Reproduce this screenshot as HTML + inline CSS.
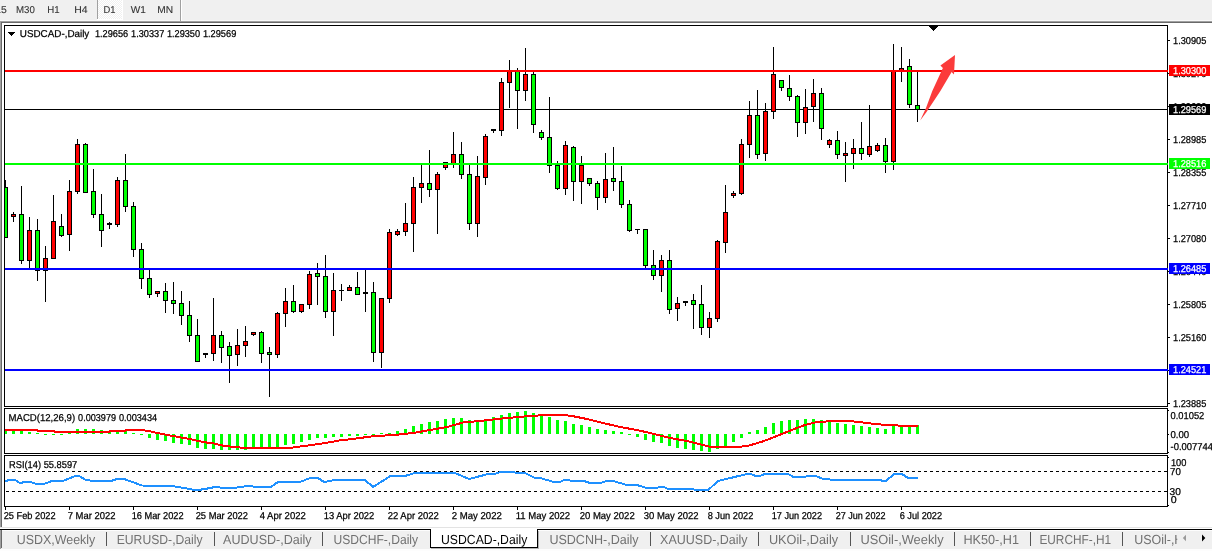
<!DOCTYPE html>
<html lang="en"><head><meta charset="utf-8"><title>USDCAD-,Daily</title>
<style>
html,body{margin:0;padding:0;background:#fff;}
body{width:1212px;height:551px;overflow:hidden;font-family:"Liberation Sans",sans-serif;}
svg{display:block;}
text{font-family:"Liberation Sans",sans-serif;text-rendering:geometricPrecision;}
.s{font-size:10px;fill:#000;stroke:#000;stroke-width:.25px;}
.tb{font-size:10px;fill:#333;stroke:#333;stroke-width:.1px;}
.tab{font-size:13.1px;fill:#707070;}
</style></head><body>
<svg width="1212" height="551" viewBox="0 0 1212 551">
<defs><pattern id="hatch" width="2" height="2" patternUnits="userSpaceOnUse"><rect width="2" height="2" fill="#f0f0f0"/><rect width="1" height="1" fill="#fff"/><rect x="1" y="1" width="1" height="1" fill="#fff"/></pattern></defs>
<g shape-rendering="crispEdges">
<rect x="0" y="0" width="1212" height="551" fill="#fff"/>
<rect x="0" y="0" width="1212" height="20" fill="#f0f0f0"/>
<rect x="0" y="20" width="1212" height="1" fill="#f8f8f8"/>
<rect x="0" y="21" width="1212" height="1" fill="#a0a0a0"/>
<rect x="0" y="22" width="1212" height="1" fill="#696969"/>
<rect x="98" y="0" width="24" height="19" fill="url(#hatch)"/>
<rect x="97" y="19" width="26" height="1" fill="#fff"/>
<rect x="122" y="0" width="1" height="20" fill="#fff"/>
<rect x="97" y="0" width="1" height="19" fill="#a0a0a0"/>
<rect x="180" y="0" width="1" height="21" fill="#a0a0a0"/>
<rect x="181" y="0" width="1" height="21" fill="#fff"/>
<rect x="0" y="21" width="1" height="506" fill="#a0a0a0"/>
<rect x="1" y="22" width="1" height="505" fill="#696969"/>
<rect x="4" y="25" width="1164" height="1" fill="#000"/>
<rect x="4" y="25" width="1" height="382" fill="#000"/>
<rect x="1167" y="25" width="1" height="382" fill="#000"/>
<rect x="4" y="408" width="1164" height="1" fill="#000"/>
<rect x="4" y="408" width="1" height="46" fill="#000"/>
<rect x="1167" y="408" width="1" height="46" fill="#000"/>
<rect x="4" y="455" width="1164" height="1" fill="#000"/>
<rect x="4" y="455" width="1" height="52" fill="#000"/>
<rect x="1167" y="455" width="1" height="52" fill="#000"/>
<rect x="4" y="406" width="1164" height="1" fill="#000"/>
<rect x="4" y="453" width="1164" height="1" fill="#000"/>
<rect x="4" y="506" width="1164" height="1" fill="#000"/>
<rect x="5" y="109" width="1163" height="1" fill="#000"/>
<rect x="5" y="180" width="1" height="58" fill="#000"/>
<rect x="5" y="187" width="3" height="51" fill="#000"/>
<rect x="5" y="188" width="2" height="49" fill="#00ff00"/>
<rect x="13" y="212" width="1" height="10" fill="#000"/>
<rect x="11" y="214" width="5" height="3" fill="#000"/>
<rect x="12" y="215" width="3" height="1" fill="#ff0000"/>
<rect x="21" y="186" width="1" height="78" fill="#000"/>
<rect x="19" y="214" width="5" height="47" fill="#000"/>
<rect x="20" y="215" width="3" height="45" fill="#00ff00"/>
<rect x="29" y="217" width="1" height="53" fill="#000"/>
<rect x="27" y="230" width="5" height="31" fill="#000"/>
<rect x="28" y="231" width="3" height="29" fill="#ff0000"/>
<rect x="37" y="219" width="1" height="62" fill="#000"/>
<rect x="35" y="230" width="5" height="41" fill="#000"/>
<rect x="36" y="231" width="3" height="39" fill="#00ff00"/>
<rect x="45" y="246" width="1" height="56" fill="#000"/>
<rect x="43" y="258" width="5" height="13" fill="#000"/>
<rect x="44" y="259" width="3" height="11" fill="#ff0000"/>
<rect x="53" y="195" width="1" height="64" fill="#000"/>
<rect x="51" y="221" width="5" height="38" fill="#000"/>
<rect x="52" y="222" width="3" height="36" fill="#ff0000"/>
<rect x="61" y="214" width="1" height="23" fill="#000"/>
<rect x="59" y="226" width="5" height="10" fill="#000"/>
<rect x="60" y="227" width="3" height="8" fill="#00ff00"/>
<rect x="69" y="180" width="1" height="71" fill="#000"/>
<rect x="67" y="191" width="5" height="44" fill="#000"/>
<rect x="68" y="192" width="3" height="42" fill="#ff0000"/>
<rect x="77" y="139" width="1" height="55" fill="#000"/>
<rect x="75" y="144" width="5" height="48" fill="#000"/>
<rect x="76" y="145" width="3" height="46" fill="#ff0000"/>
<rect x="85" y="143" width="1" height="50" fill="#000"/>
<rect x="83" y="144" width="5" height="49" fill="#000"/>
<rect x="84" y="145" width="3" height="47" fill="#00ff00"/>
<rect x="93" y="169" width="1" height="49" fill="#000"/>
<rect x="91" y="191" width="5" height="24" fill="#000"/>
<rect x="92" y="192" width="3" height="22" fill="#00ff00"/>
<rect x="101" y="194" width="1" height="53" fill="#000"/>
<rect x="99" y="214" width="5" height="17" fill="#000"/>
<rect x="100" y="215" width="3" height="15" fill="#00ff00"/>
<rect x="109" y="222" width="1" height="7" fill="#000"/>
<rect x="107" y="223" width="5" height="2" fill="#000"/>
<rect x="117" y="177" width="1" height="50" fill="#000"/>
<rect x="115" y="180" width="5" height="45" fill="#000"/>
<rect x="116" y="181" width="3" height="43" fill="#ff0000"/>
<rect x="125" y="154" width="1" height="58" fill="#000"/>
<rect x="123" y="180" width="5" height="27" fill="#000"/>
<rect x="124" y="181" width="3" height="25" fill="#00ff00"/>
<rect x="133" y="202" width="1" height="55" fill="#000"/>
<rect x="131" y="206" width="5" height="44" fill="#000"/>
<rect x="132" y="207" width="3" height="42" fill="#00ff00"/>
<rect x="141" y="243" width="1" height="46" fill="#000"/>
<rect x="139" y="249" width="5" height="30" fill="#000"/>
<rect x="140" y="250" width="3" height="28" fill="#00ff00"/>
<rect x="149" y="270" width="1" height="28" fill="#000"/>
<rect x="147" y="278" width="5" height="17" fill="#000"/>
<rect x="148" y="279" width="3" height="15" fill="#00ff00"/>
<rect x="157" y="291" width="1" height="6" fill="#000"/>
<rect x="155" y="291" width="5" height="3" fill="#000"/>
<rect x="156" y="292" width="3" height="1" fill="#ff0000"/>
<rect x="165" y="283" width="1" height="30" fill="#000"/>
<rect x="163" y="291" width="5" height="10" fill="#000"/>
<rect x="164" y="292" width="3" height="8" fill="#00ff00"/>
<rect x="173" y="282" width="1" height="32" fill="#000"/>
<rect x="171" y="300" width="5" height="4" fill="#000"/>
<rect x="172" y="301" width="3" height="2" fill="#00ff00"/>
<rect x="181" y="291" width="1" height="34" fill="#000"/>
<rect x="179" y="303" width="5" height="13" fill="#000"/>
<rect x="180" y="304" width="3" height="11" fill="#00ff00"/>
<rect x="189" y="301" width="1" height="41" fill="#000"/>
<rect x="187" y="315" width="5" height="21" fill="#000"/>
<rect x="188" y="316" width="3" height="19" fill="#00ff00"/>
<rect x="197" y="319" width="1" height="43" fill="#000"/>
<rect x="195" y="335" width="5" height="27" fill="#000"/>
<rect x="196" y="336" width="3" height="25" fill="#00ff00"/>
<rect x="205" y="353" width="1" height="5" fill="#000"/>
<rect x="203" y="353" width="5" height="2" fill="#000"/>
<rect x="213" y="298" width="1" height="63" fill="#000"/>
<rect x="211" y="335" width="5" height="19" fill="#000"/>
<rect x="212" y="336" width="3" height="17" fill="#ff0000"/>
<rect x="221" y="331" width="1" height="32" fill="#000"/>
<rect x="219" y="335" width="5" height="13" fill="#000"/>
<rect x="220" y="336" width="3" height="11" fill="#00ff00"/>
<rect x="229" y="342" width="1" height="41" fill="#000"/>
<rect x="227" y="346" width="5" height="10" fill="#000"/>
<rect x="228" y="347" width="3" height="8" fill="#00ff00"/>
<rect x="237" y="329" width="1" height="37" fill="#000"/>
<rect x="235" y="345" width="5" height="10" fill="#000"/>
<rect x="236" y="346" width="3" height="8" fill="#ff0000"/>
<rect x="245" y="326" width="1" height="31" fill="#000"/>
<rect x="243" y="341" width="5" height="5" fill="#000"/>
<rect x="244" y="342" width="3" height="3" fill="#ff0000"/>
<rect x="253" y="332" width="1" height="4" fill="#000"/>
<rect x="251" y="332" width="5" height="3" fill="#000"/>
<rect x="252" y="333" width="3" height="1" fill="#ff0000"/>
<rect x="261" y="331" width="1" height="32" fill="#000"/>
<rect x="259" y="332" width="5" height="22" fill="#000"/>
<rect x="260" y="333" width="3" height="20" fill="#00ff00"/>
<rect x="269" y="347" width="1" height="50" fill="#000"/>
<rect x="267" y="352" width="5" height="3" fill="#000"/>
<rect x="268" y="353" width="3" height="1" fill="#00ff00"/>
<rect x="277" y="312" width="1" height="46" fill="#000"/>
<rect x="275" y="313" width="5" height="42" fill="#000"/>
<rect x="276" y="314" width="3" height="40" fill="#ff0000"/>
<rect x="285" y="288" width="1" height="39" fill="#000"/>
<rect x="283" y="301" width="5" height="13" fill="#000"/>
<rect x="284" y="302" width="3" height="11" fill="#ff0000"/>
<rect x="293" y="285" width="1" height="28" fill="#000"/>
<rect x="291" y="301" width="5" height="11" fill="#000"/>
<rect x="292" y="302" width="3" height="9" fill="#00ff00"/>
<rect x="301" y="304" width="1" height="9" fill="#000"/>
<rect x="299" y="304" width="5" height="8" fill="#000"/>
<rect x="300" y="305" width="3" height="6" fill="#ff0000"/>
<rect x="309" y="271" width="1" height="38" fill="#000"/>
<rect x="307" y="274" width="5" height="31" fill="#000"/>
<rect x="308" y="275" width="3" height="29" fill="#ff0000"/>
<rect x="317" y="263" width="1" height="42" fill="#000"/>
<rect x="315" y="273" width="5" height="4" fill="#000"/>
<rect x="316" y="274" width="3" height="2" fill="#00ff00"/>
<rect x="325" y="255" width="1" height="63" fill="#000"/>
<rect x="323" y="276" width="5" height="36" fill="#000"/>
<rect x="324" y="277" width="3" height="34" fill="#00ff00"/>
<rect x="333" y="273" width="1" height="63" fill="#000"/>
<rect x="331" y="290" width="5" height="22" fill="#000"/>
<rect x="332" y="291" width="3" height="20" fill="#ff0000"/>
<rect x="341" y="284" width="1" height="17" fill="#000"/>
<rect x="339" y="290" width="5" height="1" fill="#000"/>
<rect x="349" y="285" width="1" height="6" fill="#000"/>
<rect x="347" y="287" width="5" height="4" fill="#000"/>
<rect x="348" y="288" width="3" height="2" fill="#ff0000"/>
<rect x="357" y="272" width="1" height="23" fill="#000"/>
<rect x="355" y="287" width="5" height="8" fill="#000"/>
<rect x="356" y="288" width="3" height="6" fill="#00ff00"/>
<rect x="365" y="268" width="1" height="44" fill="#000"/>
<rect x="363" y="292" width="5" height="2" fill="#000"/>
<rect x="373" y="282" width="1" height="80" fill="#000"/>
<rect x="371" y="292" width="5" height="61" fill="#000"/>
<rect x="372" y="293" width="3" height="59" fill="#00ff00"/>
<rect x="381" y="298" width="1" height="70" fill="#000"/>
<rect x="379" y="298" width="5" height="55" fill="#000"/>
<rect x="380" y="299" width="3" height="53" fill="#ff0000"/>
<rect x="389" y="229" width="1" height="74" fill="#000"/>
<rect x="387" y="232" width="5" height="67" fill="#000"/>
<rect x="388" y="233" width="3" height="65" fill="#ff0000"/>
<rect x="397" y="229" width="1" height="7" fill="#000"/>
<rect x="395" y="231" width="5" height="4" fill="#000"/>
<rect x="396" y="232" width="3" height="2" fill="#ff0000"/>
<rect x="405" y="203" width="1" height="33" fill="#000"/>
<rect x="403" y="223" width="5" height="9" fill="#000"/>
<rect x="404" y="224" width="3" height="7" fill="#ff0000"/>
<rect x="413" y="177" width="1" height="75" fill="#000"/>
<rect x="411" y="187" width="5" height="37" fill="#000"/>
<rect x="412" y="188" width="3" height="35" fill="#ff0000"/>
<rect x="421" y="163" width="1" height="40" fill="#000"/>
<rect x="419" y="183" width="5" height="5" fill="#000"/>
<rect x="420" y="184" width="3" height="3" fill="#ff0000"/>
<rect x="429" y="150" width="1" height="47" fill="#000"/>
<rect x="427" y="183" width="5" height="7" fill="#000"/>
<rect x="428" y="184" width="3" height="5" fill="#00ff00"/>
<rect x="437" y="172" width="1" height="62" fill="#000"/>
<rect x="435" y="174" width="5" height="16" fill="#000"/>
<rect x="436" y="175" width="3" height="14" fill="#ff0000"/>
<rect x="445" y="162" width="1" height="8" fill="#000"/>
<rect x="443" y="162" width="5" height="6" fill="#000"/>
<rect x="444" y="163" width="3" height="4" fill="#ff0000"/>
<rect x="453" y="132" width="1" height="36" fill="#000"/>
<rect x="451" y="154" width="5" height="11" fill="#000"/>
<rect x="452" y="155" width="3" height="9" fill="#ff0000"/>
<rect x="461" y="142" width="1" height="37" fill="#000"/>
<rect x="459" y="154" width="5" height="21" fill="#000"/>
<rect x="460" y="155" width="3" height="19" fill="#00ff00"/>
<rect x="469" y="163" width="1" height="67" fill="#000"/>
<rect x="467" y="174" width="5" height="50" fill="#000"/>
<rect x="468" y="175" width="3" height="48" fill="#00ff00"/>
<rect x="477" y="156" width="1" height="81" fill="#000"/>
<rect x="475" y="176" width="5" height="48" fill="#000"/>
<rect x="476" y="177" width="3" height="46" fill="#ff0000"/>
<rect x="485" y="134" width="1" height="51" fill="#000"/>
<rect x="483" y="136" width="5" height="42" fill="#000"/>
<rect x="484" y="137" width="3" height="40" fill="#ff0000"/>
<rect x="493" y="129" width="1" height="4" fill="#000"/>
<rect x="491" y="129" width="5" height="2" fill="#000"/>
<rect x="501" y="78" width="1" height="58" fill="#000"/>
<rect x="499" y="82" width="5" height="49" fill="#000"/>
<rect x="500" y="83" width="3" height="47" fill="#ff0000"/>
<rect x="509" y="60" width="1" height="48" fill="#000"/>
<rect x="507" y="70" width="5" height="13" fill="#000"/>
<rect x="508" y="71" width="3" height="11" fill="#ff0000"/>
<rect x="517" y="68" width="1" height="61" fill="#000"/>
<rect x="515" y="70" width="5" height="21" fill="#000"/>
<rect x="516" y="71" width="3" height="19" fill="#00ff00"/>
<rect x="525" y="48" width="1" height="53" fill="#000"/>
<rect x="523" y="74" width="5" height="17" fill="#000"/>
<rect x="524" y="75" width="3" height="15" fill="#ff0000"/>
<rect x="533" y="72" width="1" height="61" fill="#000"/>
<rect x="531" y="74" width="5" height="51" fill="#000"/>
<rect x="532" y="75" width="3" height="49" fill="#00ff00"/>
<rect x="541" y="130" width="1" height="10" fill="#000"/>
<rect x="539" y="132" width="5" height="6" fill="#000"/>
<rect x="540" y="133" width="3" height="4" fill="#00ff00"/>
<rect x="549" y="97" width="1" height="76" fill="#000"/>
<rect x="547" y="137" width="5" height="29" fill="#000"/>
<rect x="548" y="138" width="3" height="27" fill="#00ff00"/>
<rect x="557" y="161" width="1" height="29" fill="#000"/>
<rect x="555" y="165" width="5" height="24" fill="#000"/>
<rect x="556" y="166" width="3" height="22" fill="#00ff00"/>
<rect x="565" y="141" width="1" height="54" fill="#000"/>
<rect x="563" y="145" width="5" height="44" fill="#000"/>
<rect x="564" y="146" width="3" height="42" fill="#ff0000"/>
<rect x="573" y="146" width="1" height="55" fill="#000"/>
<rect x="571" y="147" width="5" height="35" fill="#000"/>
<rect x="572" y="148" width="3" height="33" fill="#00ff00"/>
<rect x="581" y="156" width="1" height="48" fill="#000"/>
<rect x="579" y="165" width="5" height="17" fill="#000"/>
<rect x="580" y="166" width="3" height="15" fill="#ff0000"/>
<rect x="589" y="178" width="1" height="8" fill="#000"/>
<rect x="587" y="178" width="5" height="6" fill="#000"/>
<rect x="588" y="179" width="3" height="4" fill="#00ff00"/>
<rect x="597" y="181" width="1" height="29" fill="#000"/>
<rect x="595" y="183" width="5" height="15" fill="#000"/>
<rect x="596" y="184" width="3" height="13" fill="#00ff00"/>
<rect x="605" y="153" width="1" height="50" fill="#000"/>
<rect x="603" y="179" width="5" height="19" fill="#000"/>
<rect x="604" y="180" width="3" height="17" fill="#ff0000"/>
<rect x="613" y="147" width="1" height="44" fill="#000"/>
<rect x="611" y="178" width="5" height="4" fill="#000"/>
<rect x="612" y="179" width="3" height="2" fill="#00ff00"/>
<rect x="621" y="166" width="1" height="42" fill="#000"/>
<rect x="619" y="181" width="5" height="24" fill="#000"/>
<rect x="620" y="182" width="3" height="22" fill="#00ff00"/>
<rect x="629" y="200" width="1" height="32" fill="#000"/>
<rect x="627" y="204" width="5" height="27" fill="#000"/>
<rect x="628" y="205" width="3" height="25" fill="#00ff00"/>
<rect x="637" y="229" width="1" height="5" fill="#000"/>
<rect x="635" y="229" width="5" height="1" fill="#000"/>
<rect x="645" y="229" width="1" height="39" fill="#000"/>
<rect x="643" y="229" width="5" height="37" fill="#000"/>
<rect x="644" y="230" width="3" height="35" fill="#00ff00"/>
<rect x="653" y="250" width="1" height="30" fill="#000"/>
<rect x="651" y="265" width="5" height="11" fill="#000"/>
<rect x="652" y="266" width="3" height="9" fill="#00ff00"/>
<rect x="661" y="255" width="1" height="37" fill="#000"/>
<rect x="659" y="260" width="5" height="16" fill="#000"/>
<rect x="660" y="261" width="3" height="14" fill="#ff0000"/>
<rect x="669" y="250" width="1" height="64" fill="#000"/>
<rect x="667" y="260" width="5" height="50" fill="#000"/>
<rect x="668" y="261" width="3" height="48" fill="#00ff00"/>
<rect x="677" y="297" width="1" height="24" fill="#000"/>
<rect x="675" y="303" width="5" height="6" fill="#000"/>
<rect x="676" y="304" width="3" height="4" fill="#ff0000"/>
<rect x="685" y="301" width="1" height="5" fill="#000"/>
<rect x="683" y="301" width="5" height="2" fill="#000"/>
<rect x="693" y="294" width="1" height="35" fill="#000"/>
<rect x="691" y="300" width="5" height="5" fill="#000"/>
<rect x="692" y="301" width="3" height="3" fill="#00ff00"/>
<rect x="701" y="285" width="1" height="50" fill="#000"/>
<rect x="699" y="304" width="5" height="24" fill="#000"/>
<rect x="700" y="305" width="3" height="22" fill="#00ff00"/>
<rect x="709" y="312" width="1" height="26" fill="#000"/>
<rect x="707" y="318" width="5" height="10" fill="#000"/>
<rect x="708" y="319" width="3" height="8" fill="#ff0000"/>
<rect x="717" y="240" width="1" height="82" fill="#000"/>
<rect x="715" y="241" width="5" height="78" fill="#000"/>
<rect x="716" y="242" width="3" height="76" fill="#ff0000"/>
<rect x="725" y="185" width="1" height="68" fill="#000"/>
<rect x="723" y="212" width="5" height="31" fill="#000"/>
<rect x="724" y="213" width="3" height="29" fill="#ff0000"/>
<rect x="733" y="191" width="1" height="7" fill="#000"/>
<rect x="731" y="193" width="5" height="3" fill="#000"/>
<rect x="732" y="194" width="3" height="1" fill="#ff0000"/>
<rect x="741" y="139" width="1" height="56" fill="#000"/>
<rect x="739" y="144" width="5" height="50" fill="#000"/>
<rect x="740" y="145" width="3" height="48" fill="#ff0000"/>
<rect x="749" y="101" width="1" height="57" fill="#000"/>
<rect x="747" y="115" width="5" height="30" fill="#000"/>
<rect x="748" y="116" width="3" height="28" fill="#ff0000"/>
<rect x="757" y="90" width="1" height="69" fill="#000"/>
<rect x="755" y="115" width="5" height="40" fill="#000"/>
<rect x="756" y="116" width="3" height="38" fill="#00ff00"/>
<rect x="765" y="103" width="1" height="58" fill="#000"/>
<rect x="763" y="111" width="5" height="43" fill="#000"/>
<rect x="764" y="112" width="3" height="41" fill="#ff0000"/>
<rect x="773" y="47" width="1" height="72" fill="#000"/>
<rect x="771" y="74" width="5" height="38" fill="#000"/>
<rect x="772" y="75" width="3" height="36" fill="#ff0000"/>
<rect x="781" y="80" width="1" height="11" fill="#000"/>
<rect x="779" y="80" width="5" height="8" fill="#000"/>
<rect x="780" y="81" width="3" height="6" fill="#00ff00"/>
<rect x="789" y="75" width="1" height="26" fill="#000"/>
<rect x="787" y="88" width="5" height="9" fill="#000"/>
<rect x="788" y="89" width="3" height="7" fill="#00ff00"/>
<rect x="797" y="95" width="1" height="42" fill="#000"/>
<rect x="795" y="96" width="5" height="27" fill="#000"/>
<rect x="796" y="97" width="3" height="25" fill="#00ff00"/>
<rect x="805" y="89" width="1" height="45" fill="#000"/>
<rect x="803" y="107" width="5" height="16" fill="#000"/>
<rect x="804" y="108" width="3" height="14" fill="#ff0000"/>
<rect x="813" y="79" width="1" height="43" fill="#000"/>
<rect x="811" y="93" width="5" height="14" fill="#000"/>
<rect x="812" y="94" width="3" height="12" fill="#ff0000"/>
<rect x="821" y="88" width="1" height="52" fill="#000"/>
<rect x="819" y="93" width="5" height="36" fill="#000"/>
<rect x="820" y="94" width="3" height="34" fill="#00ff00"/>
<rect x="829" y="139" width="1" height="9" fill="#000"/>
<rect x="827" y="140" width="5" height="5" fill="#000"/>
<rect x="828" y="141" width="3" height="3" fill="#ff0000"/>
<rect x="837" y="131" width="1" height="28" fill="#000"/>
<rect x="835" y="140" width="5" height="15" fill="#000"/>
<rect x="836" y="141" width="3" height="13" fill="#00ff00"/>
<rect x="845" y="142" width="1" height="40" fill="#000"/>
<rect x="843" y="153" width="5" height="3" fill="#000"/>
<rect x="844" y="154" width="3" height="1" fill="#ff0000"/>
<rect x="853" y="139" width="1" height="30" fill="#000"/>
<rect x="851" y="148" width="5" height="6" fill="#000"/>
<rect x="852" y="149" width="3" height="4" fill="#ff0000"/>
<rect x="861" y="122" width="1" height="38" fill="#000"/>
<rect x="859" y="148" width="5" height="6" fill="#000"/>
<rect x="860" y="149" width="3" height="4" fill="#00ff00"/>
<rect x="869" y="105" width="1" height="52" fill="#000"/>
<rect x="867" y="146" width="5" height="9" fill="#000"/>
<rect x="868" y="147" width="3" height="7" fill="#ff0000"/>
<rect x="877" y="143" width="1" height="9" fill="#000"/>
<rect x="875" y="145" width="5" height="6" fill="#000"/>
<rect x="876" y="146" width="3" height="4" fill="#ff0000"/>
<rect x="885" y="138" width="1" height="35" fill="#000"/>
<rect x="883" y="145" width="5" height="17" fill="#000"/>
<rect x="884" y="146" width="3" height="15" fill="#00ff00"/>
<rect x="893" y="44" width="1" height="126" fill="#000"/>
<rect x="891" y="71" width="5" height="91" fill="#000"/>
<rect x="892" y="72" width="3" height="89" fill="#ff0000"/>
<rect x="901" y="47" width="1" height="35" fill="#000"/>
<rect x="899" y="68" width="5" height="4" fill="#000"/>
<rect x="900" y="69" width="3" height="2" fill="#ff0000"/>
<rect x="909" y="59" width="1" height="49" fill="#000"/>
<rect x="907" y="66" width="5" height="39" fill="#000"/>
<rect x="908" y="67" width="3" height="37" fill="#00ff00"/>
<rect x="917" y="72" width="1" height="50" fill="#000"/>
<rect x="915" y="105" width="5" height="5" fill="#000"/>
<rect x="916" y="106" width="3" height="3" fill="#00ff00"/>
<rect x="5" y="70" width="1163" height="2" fill="#ff0000"/>
<rect x="5" y="163" width="1163" height="2" fill="#00ff00"/>
<rect x="5" y="268" width="1163" height="2" fill="#0000ff"/>
<rect x="5" y="369" width="1163" height="2" fill="#0000ff"/>
<rect x="5" y="431" width="2" height="3" fill="#00ff00"/>
<rect x="12" y="431" width="3" height="3" fill="#00ff00"/>
<rect x="20" y="431" width="3" height="3" fill="#00ff00"/>
<rect x="28" y="432" width="3" height="2" fill="#00ff00"/>
<rect x="36" y="433" width="3" height="1" fill="#00ff00"/>
<rect x="44" y="434" width="3" height="1" fill="#00ff00"/>
<rect x="52" y="434" width="3" height="1" fill="#00ff00"/>
<rect x="60" y="434" width="3" height="1" fill="#00ff00"/>
<rect x="68" y="432" width="3" height="2" fill="#00ff00"/>
<rect x="76" y="429" width="3" height="5" fill="#00ff00"/>
<rect x="84" y="429" width="3" height="5" fill="#00ff00"/>
<rect x="92" y="429" width="3" height="5" fill="#00ff00"/>
<rect x="100" y="430" width="3" height="4" fill="#00ff00"/>
<rect x="108" y="431" width="3" height="3" fill="#00ff00"/>
<rect x="116" y="432" width="3" height="2" fill="#00ff00"/>
<rect x="124" y="431" width="3" height="3" fill="#00ff00"/>
<rect x="132" y="433" width="3" height="1" fill="#00ff00"/>
<rect x="140" y="434" width="3" height="1" fill="#00ff00"/>
<rect x="148" y="434" width="3" height="4" fill="#00ff00"/>
<rect x="156" y="434" width="3" height="6" fill="#00ff00"/>
<rect x="164" y="434" width="3" height="7" fill="#00ff00"/>
<rect x="172" y="434" width="3" height="9" fill="#00ff00"/>
<rect x="180" y="434" width="3" height="10" fill="#00ff00"/>
<rect x="188" y="434" width="3" height="11" fill="#00ff00"/>
<rect x="196" y="434" width="3" height="14" fill="#00ff00"/>
<rect x="204" y="434" width="3" height="15" fill="#00ff00"/>
<rect x="212" y="434" width="3" height="15" fill="#00ff00"/>
<rect x="220" y="434" width="3" height="16" fill="#00ff00"/>
<rect x="228" y="434" width="3" height="16" fill="#00ff00"/>
<rect x="236" y="434" width="3" height="16" fill="#00ff00"/>
<rect x="244" y="434" width="3" height="16" fill="#00ff00"/>
<rect x="252" y="434" width="3" height="14" fill="#00ff00"/>
<rect x="260" y="434" width="3" height="14" fill="#00ff00"/>
<rect x="268" y="434" width="3" height="14" fill="#00ff00"/>
<rect x="276" y="434" width="3" height="13" fill="#00ff00"/>
<rect x="284" y="434" width="3" height="11" fill="#00ff00"/>
<rect x="292" y="434" width="3" height="10" fill="#00ff00"/>
<rect x="300" y="434" width="3" height="8" fill="#00ff00"/>
<rect x="308" y="434" width="3" height="6" fill="#00ff00"/>
<rect x="316" y="434" width="3" height="4" fill="#00ff00"/>
<rect x="324" y="434" width="3" height="4" fill="#00ff00"/>
<rect x="332" y="434" width="3" height="3" fill="#00ff00"/>
<rect x="340" y="434" width="3" height="3" fill="#00ff00"/>
<rect x="348" y="434" width="3" height="2" fill="#00ff00"/>
<rect x="356" y="434" width="3" height="2" fill="#00ff00"/>
<rect x="364" y="434" width="3" height="1" fill="#00ff00"/>
<rect x="372" y="434" width="3" height="1" fill="#00ff00"/>
<rect x="380" y="433" width="3" height="1" fill="#00ff00"/>
<rect x="388" y="433" width="3" height="1" fill="#00ff00"/>
<rect x="396" y="431" width="3" height="3" fill="#00ff00"/>
<rect x="404" y="429" width="3" height="5" fill="#00ff00"/>
<rect x="412" y="426" width="3" height="8" fill="#00ff00"/>
<rect x="420" y="424" width="3" height="10" fill="#00ff00"/>
<rect x="428" y="422" width="3" height="12" fill="#00ff00"/>
<rect x="436" y="421" width="3" height="13" fill="#00ff00"/>
<rect x="444" y="419" width="3" height="15" fill="#00ff00"/>
<rect x="452" y="418" width="3" height="16" fill="#00ff00"/>
<rect x="460" y="418" width="3" height="16" fill="#00ff00"/>
<rect x="468" y="420" width="3" height="14" fill="#00ff00"/>
<rect x="476" y="420" width="3" height="14" fill="#00ff00"/>
<rect x="484" y="419" width="3" height="15" fill="#00ff00"/>
<rect x="492" y="417" width="3" height="17" fill="#00ff00"/>
<rect x="500" y="415" width="3" height="19" fill="#00ff00"/>
<rect x="508" y="413" width="3" height="21" fill="#00ff00"/>
<rect x="516" y="412" width="3" height="22" fill="#00ff00"/>
<rect x="524" y="411" width="3" height="23" fill="#00ff00"/>
<rect x="532" y="413" width="3" height="21" fill="#00ff00"/>
<rect x="540" y="415" width="3" height="19" fill="#00ff00"/>
<rect x="548" y="417" width="3" height="17" fill="#00ff00"/>
<rect x="556" y="420" width="3" height="14" fill="#00ff00"/>
<rect x="564" y="421" width="3" height="13" fill="#00ff00"/>
<rect x="572" y="424" width="3" height="10" fill="#00ff00"/>
<rect x="580" y="425" width="3" height="9" fill="#00ff00"/>
<rect x="588" y="427" width="3" height="7" fill="#00ff00"/>
<rect x="596" y="429" width="3" height="5" fill="#00ff00"/>
<rect x="604" y="430" width="3" height="4" fill="#00ff00"/>
<rect x="612" y="431" width="3" height="3" fill="#00ff00"/>
<rect x="620" y="432" width="3" height="2" fill="#00ff00"/>
<rect x="628" y="434" width="3" height="1" fill="#00ff00"/>
<rect x="636" y="434" width="3" height="3" fill="#00ff00"/>
<rect x="644" y="434" width="3" height="6" fill="#00ff00"/>
<rect x="652" y="434" width="3" height="8" fill="#00ff00"/>
<rect x="660" y="434" width="3" height="9" fill="#00ff00"/>
<rect x="668" y="434" width="3" height="12" fill="#00ff00"/>
<rect x="676" y="434" width="3" height="14" fill="#00ff00"/>
<rect x="684" y="434" width="3" height="15" fill="#00ff00"/>
<rect x="692" y="434" width="3" height="16" fill="#00ff00"/>
<rect x="700" y="434" width="3" height="17" fill="#00ff00"/>
<rect x="708" y="434" width="3" height="18" fill="#00ff00"/>
<rect x="716" y="434" width="3" height="15" fill="#00ff00"/>
<rect x="724" y="434" width="3" height="12" fill="#00ff00"/>
<rect x="732" y="434" width="3" height="8" fill="#00ff00"/>
<rect x="740" y="434" width="3" height="4" fill="#00ff00"/>
<rect x="748" y="432" width="3" height="2" fill="#00ff00"/>
<rect x="756" y="430" width="3" height="4" fill="#00ff00"/>
<rect x="764" y="427" width="3" height="7" fill="#00ff00"/>
<rect x="772" y="423" width="3" height="11" fill="#00ff00"/>
<rect x="780" y="421" width="3" height="13" fill="#00ff00"/>
<rect x="788" y="420" width="3" height="14" fill="#00ff00"/>
<rect x="796" y="420" width="3" height="14" fill="#00ff00"/>
<rect x="804" y="419" width="3" height="15" fill="#00ff00"/>
<rect x="812" y="419" width="3" height="15" fill="#00ff00"/>
<rect x="820" y="420" width="3" height="14" fill="#00ff00"/>
<rect x="828" y="422" width="3" height="12" fill="#00ff00"/>
<rect x="836" y="423" width="3" height="11" fill="#00ff00"/>
<rect x="844" y="424" width="3" height="10" fill="#00ff00"/>
<rect x="852" y="425" width="3" height="9" fill="#00ff00"/>
<rect x="860" y="426" width="3" height="8" fill="#00ff00"/>
<rect x="868" y="427" width="3" height="7" fill="#00ff00"/>
<rect x="876" y="428" width="3" height="6" fill="#00ff00"/>
<rect x="884" y="429" width="3" height="5" fill="#00ff00"/>
<rect x="892" y="426" width="3" height="8" fill="#00ff00"/>
<rect x="900" y="426" width="3" height="8" fill="#00ff00"/>
<rect x="908" y="426" width="3" height="8" fill="#00ff00"/>
<rect x="916" y="425" width="3" height="9" fill="#00ff00"/>
<path d="M6 471.5H1167M6 491.5H1167" stroke="#000" stroke-width="1" stroke-dasharray="3 3" fill="none"/>
</g>
<polyline points="5,430 37,430 38,431 54,431 55,432 109,432 110,431 125,431 126,430 141,430 149,431 157,433 165,434.5 173,436 181,437.5 190,439 198,441 207,442.6 215,443.7 223,445.6 232,446.7 245,448 290,448 298,446.7 307,445.6 323,443.4 340,440.4 357,438.4 373,436.2 390,435.2 397,434.7 413,433 430,430 447,427 463,422.5 480,421 497,419 513,417.5 530,416 547,415 564,415 572,416 587,419 603,423 620,427 637,430 653,433.7 670,438 687,441 703,445 710,446.7 740,446.7 749,445.6 762,441.7 777,436 793,429.5 805,425 815,422.5 830,421.2 852,421.2 860,422.2 877,424.2 893,425.4 918,426" fill="none" stroke="#ff0000" stroke-width="2" stroke-linejoin="round" shape-rendering="crispEdges"/>
<polyline points="5,481 10,480 15,480 20,483 25,482 31,482 36,484 44,484 52,481 63,481 75,476 79,476 86,480 94,481 111,481 117,479 124,479 142,485.5 172,486 184,488 195,490 198,490 205,489 215,487 223,487.8 235,487.8 247,486 257,486.8 271,486.8 278,482 300,482 310,478 318,478 324,482 335,480 365,480 373,487 389,477 390,476 405,476 415,473 455,473 469,479 487,474.3 494,474 503,471.5 512,471.5 515,472.5 524,472.5 534,477.6 540,478 554,482 560,482 564,480 569,480 572,481.3 585,481.3 590,483 600,483 607,481 613,481 627,485 637,485 646,487.8 657,487.8 659,487 664,487 668,489 693,489 696,490.2 708,490.2 718,481 747,474 751,474 755,475.8 760,475.8 765,474 788,474 794,477.2 805,477.2 807,476 816,476 822,478.5 829,479 831,480 880,480 883,481 886,481 894,474 902,474 908,478 918,478" fill="none" stroke="#1e90ff" stroke-width="2" stroke-linejoin="round" shape-rendering="crispEdges"/>
<polygon points="920.2,120.6 926,108 932.3,91 942.9,68 940.4,65.6 955,55 954,74.6 951.6,72 940.4,91 926.5,112" fill="#fb3b3b"/>
<path d="M929 26h9v1h-1v1h-1v1h-1v1h-1v1h-1v-1h-1v-1h-1v-1h-1v-1h-1z" fill="#000" shape-rendering="crispEdges"/>
<path d="M8 32h7v1h-1v1h-1v1h-1v1h-1v-1h-1v-1h-1v-1h-1z" fill="#000" shape-rendering="crispEdges"/>
<text x="19.8" y="37" class="s" textLength="69.5" lengthAdjust="spacingAndGlyphs">USDCAD-,Daily</text>
<text x="94.9" y="37" class="s" textLength="33.3" lengthAdjust="spacingAndGlyphs">1.29656</text>
<text x="131.1" y="37" class="s" textLength="33.2" lengthAdjust="spacingAndGlyphs">1.30337</text>
<text x="166.9" y="37" class="s" textLength="33.2" lengthAdjust="spacingAndGlyphs">1.29350</text>
<text x="202.9" y="37" class="s" textLength="33.4" lengthAdjust="spacingAndGlyphs">1.29569</text>
<text x="8.5" y="421" class="s" textLength="66.6" lengthAdjust="spacingAndGlyphs">MACD(12,26,9)</text>
<text x="78.1" y="421" class="s" textLength="37.9" lengthAdjust="spacingAndGlyphs">0.003979</text>
<text x="118.9" y="421" class="s" textLength="38.3" lengthAdjust="spacingAndGlyphs">0.003434</text>
<text x="9.0" y="468" class="s" textLength="32.0" lengthAdjust="spacingAndGlyphs">RSI(14)</text>
<text x="43.7" y="468" class="s" textLength="33.6" lengthAdjust="spacingAndGlyphs">55.8597</text>
<text x="-4.8" y="13" class="tb" textLength="11.6" lengthAdjust="spacingAndGlyphs">15</text>
<text x="16.0" y="13" class="tb" textLength="18.8" lengthAdjust="spacingAndGlyphs">M30</text>
<text x="47.2" y="13" class="tb" textLength="12.4" lengthAdjust="spacingAndGlyphs">H1</text>
<text x="74.2" y="13" class="tb" textLength="13.4" lengthAdjust="spacingAndGlyphs">H4</text>
<text x="103.5" y="13" class="tb" textLength="12.0" lengthAdjust="spacingAndGlyphs">D1</text>
<text x="130.8" y="13" class="tb" textLength="15.1" lengthAdjust="spacingAndGlyphs">W1</text>
<text x="157.2" y="13" class="tb" textLength="15.9" lengthAdjust="spacingAndGlyphs">MN</text>
<g shape-rendering="crispEdges">
<rect x="1168" y="40" width="2" height="1" fill="#000"/>
<rect x="1168" y="73" width="2" height="1" fill="#000"/>
<rect x="1168" y="106" width="2" height="1" fill="#000"/>
<rect x="1168" y="139" width="2" height="1" fill="#000"/>
<rect x="1168" y="172" width="2" height="1" fill="#000"/>
<rect x="1168" y="205" width="2" height="1" fill="#000"/>
<rect x="1168" y="238" width="2" height="1" fill="#000"/>
<rect x="1168" y="271" width="2" height="1" fill="#000"/>
<rect x="1168" y="304" width="2" height="1" fill="#000"/>
<rect x="1168" y="337" width="2" height="1" fill="#000"/>
<rect x="1168" y="370" width="2" height="1" fill="#000"/>
<rect x="1168" y="403" width="2" height="1" fill="#000"/>
</g>
<text x="1173.0" y="44" class="s" textLength="33.4" lengthAdjust="spacingAndGlyphs">1.30905</text>
<text x="1173.0" y="77" class="s" textLength="33.4" lengthAdjust="spacingAndGlyphs">1.30270</text>
<text x="1173.0" y="110" class="s" textLength="33.4" lengthAdjust="spacingAndGlyphs">1.29630</text>
<text x="1173.0" y="143" class="s" textLength="33.4" lengthAdjust="spacingAndGlyphs">1.28985</text>
<text x="1173.0" y="176" class="s" textLength="33.4" lengthAdjust="spacingAndGlyphs">1.28355</text>
<text x="1173.0" y="209" class="s" textLength="33.4" lengthAdjust="spacingAndGlyphs">1.27710</text>
<text x="1173.0" y="242" class="s" textLength="33.4" lengthAdjust="spacingAndGlyphs">1.27080</text>
<text x="1173.0" y="275" class="s" textLength="33.4" lengthAdjust="spacingAndGlyphs">1.26440</text>
<text x="1173.0" y="308" class="s" textLength="33.4" lengthAdjust="spacingAndGlyphs">1.25805</text>
<text x="1173.0" y="341" class="s" textLength="33.4" lengthAdjust="spacingAndGlyphs">1.25160</text>
<text x="1173.0" y="374" class="s" textLength="33.4" lengthAdjust="spacingAndGlyphs">1.24520</text>
<text x="1173.0" y="407" class="s" textLength="33.4" lengthAdjust="spacingAndGlyphs">1.23885</text>
<rect x="1169" y="65" width="41" height="11" fill="#ff0000" shape-rendering="crispEdges"/>
<text x="1173.0" y="74" class="s" textLength="33.4" lengthAdjust="spacingAndGlyphs" style="fill:#fff;stroke:#fff">1.30300</text>
<rect x="1169" y="104" width="41" height="11" fill="#000000" shape-rendering="crispEdges"/>
<text x="1173.0" y="113" class="s" textLength="33.4" lengthAdjust="spacingAndGlyphs" style="fill:#fff;stroke:#fff">1.29569</text>
<rect x="1169" y="158" width="41" height="11" fill="#00ff00" shape-rendering="crispEdges"/>
<text x="1173.0" y="167" class="s" textLength="33.4" lengthAdjust="spacingAndGlyphs" style="fill:#fff;stroke:#fff">1.28516</text>
<rect x="1169" y="263" width="41" height="11" fill="#0000ff" shape-rendering="crispEdges"/>
<text x="1173.0" y="272" class="s" textLength="33.4" lengthAdjust="spacingAndGlyphs" style="fill:#fff;stroke:#fff">1.26485</text>
<rect x="1169" y="364" width="41" height="11" fill="#0000ff" shape-rendering="crispEdges"/>
<text x="1173.0" y="373" class="s" textLength="33.4" lengthAdjust="spacingAndGlyphs" style="fill:#fff;stroke:#fff">1.24521</text>
<g shape-rendering="crispEdges">
<rect x="1168" y="410" width="1" height="1" fill="#000"/>
<rect x="1168" y="434" width="1" height="1" fill="#000"/>
<rect x="1168" y="452" width="1" height="1" fill="#000"/>
<rect x="1168" y="457" width="1" height="1" fill="#000"/>
<rect x="1168" y="505" width="1" height="1" fill="#000"/>
</g>
<text x="1170.5" y="419" class="s" textLength="33.8" lengthAdjust="spacingAndGlyphs">0.01052</text>
<text x="1170.5" y="438" class="s" textLength="18.7" lengthAdjust="spacingAndGlyphs">0.00</text>
<text x="1170.5" y="450" class="s" textLength="42.5" lengthAdjust="spacingAndGlyphs">-0.007744</text>
<text x="1170.9" y="466" class="s" textLength="15.5" lengthAdjust="spacingAndGlyphs">100</text>
<text x="1170.0" y="475" class="s" textLength="10.8" lengthAdjust="spacingAndGlyphs">70</text>
<text x="1169.5" y="495" class="s" textLength="11.3" lengthAdjust="spacingAndGlyphs">30</text>
<text x="1170.7" y="503" class="s" textLength="5.9" lengthAdjust="spacingAndGlyphs">0</text>
<g shape-rendering="crispEdges">
<rect x="5" y="507" width="1" height="3" fill="#000"/>
<rect x="69" y="507" width="1" height="3" fill="#000"/>
<rect x="133" y="507" width="1" height="3" fill="#000"/>
<rect x="197" y="507" width="1" height="3" fill="#000"/>
<rect x="261" y="507" width="1" height="3" fill="#000"/>
<rect x="325" y="507" width="1" height="3" fill="#000"/>
<rect x="389" y="507" width="1" height="3" fill="#000"/>
<rect x="453" y="507" width="1" height="3" fill="#000"/>
<rect x="517" y="507" width="1" height="3" fill="#000"/>
<rect x="581" y="507" width="1" height="3" fill="#000"/>
<rect x="645" y="507" width="1" height="3" fill="#000"/>
<rect x="709" y="507" width="1" height="3" fill="#000"/>
<rect x="773" y="507" width="1" height="3" fill="#000"/>
<rect x="837" y="507" width="1" height="3" fill="#000"/>
<rect x="901" y="507" width="1" height="3" fill="#000"/>
</g>
<text x="3.7" y="519" class="s" textLength="51.9" lengthAdjust="spacingAndGlyphs">25 Feb 2022</text>
<text x="67.7" y="519" class="s" textLength="47.8" lengthAdjust="spacingAndGlyphs">7 Mar 2022</text>
<text x="131.7" y="519" class="s" textLength="51.9" lengthAdjust="spacingAndGlyphs">16 Mar 2022</text>
<text x="195.7" y="519" class="s" textLength="52.3" lengthAdjust="spacingAndGlyphs">25 Mar 2022</text>
<text x="259.7" y="519" class="s" textLength="46.1" lengthAdjust="spacingAndGlyphs">4 Apr 2022</text>
<text x="323.7" y="519" class="s" textLength="50.6" lengthAdjust="spacingAndGlyphs">13 Apr 2022</text>
<text x="387.7" y="519" class="s" textLength="51.1" lengthAdjust="spacingAndGlyphs">22 Apr 2022</text>
<text x="451.7" y="519" class="s" textLength="50.2" lengthAdjust="spacingAndGlyphs">2 May 2022</text>
<text x="515.7" y="519" class="s" textLength="54.4" lengthAdjust="spacingAndGlyphs">11 May 2022</text>
<text x="579.7" y="519" class="s" textLength="55.0" lengthAdjust="spacingAndGlyphs">20 May 2022</text>
<text x="643.7" y="519" class="s" textLength="54.9" lengthAdjust="spacingAndGlyphs">30 May 2022</text>
<text x="707.7" y="519" class="s" textLength="45.6" lengthAdjust="spacingAndGlyphs">8 Jun 2022</text>
<text x="771.7" y="519" class="s" textLength="50.3" lengthAdjust="spacingAndGlyphs">17 Jun 2022</text>
<text x="835.7" y="519" class="s" textLength="49.8" lengthAdjust="spacingAndGlyphs">27 Jun 2022</text>
<text x="899.7" y="519" class="s" textLength="42.4" lengthAdjust="spacingAndGlyphs">6 Jul 2022</text>
<g shape-rendering="crispEdges">
<rect x="0" y="527" width="1212" height="1" fill="#e3e3e3"/>
<rect x="0" y="528" width="1212" height="1" fill="#fff"/>
<rect x="0" y="529" width="1212" height="1" fill="#000"/>
<rect x="0" y="530" width="1212" height="1" fill="#fdfdfd"/>
<rect x="0" y="531" width="1212" height="18" fill="#f0f0f0"/>
<rect x="0" y="549" width="1212" height="2" fill="#fdfdfd"/>
<rect x="0" y="530" width="1" height="19" fill="#a0a0a0"/>
<rect x="1" y="530" width="1" height="18" fill="#696969"/>
<rect x="431" y="548" width="108" height="1" fill="#b4b4b4"/>
<rect x="538" y="531" width="1" height="18" fill="#b4b4b4"/>
<rect x="430" y="529" width="108" height="19" fill="#000"/>
<rect x="431" y="528" width="106" height="19" fill="#fff"/>
<rect x="106" y="532" width="1" height="14" fill="#555"/>
<rect x="214" y="532" width="1" height="14" fill="#555"/>
<rect x="322" y="532" width="1" height="14" fill="#555"/>
<rect x="650" y="532" width="1" height="14" fill="#555"/>
<rect x="758" y="532" width="1" height="14" fill="#555"/>
<rect x="850" y="532" width="1" height="14" fill="#555"/>
<rect x="954" y="532" width="1" height="14" fill="#555"/>
<rect x="1030" y="532" width="1" height="14" fill="#555"/>
<rect x="1122" y="532" width="1" height="14" fill="#555"/>
</g>
<text x="16.8" y="544" class="tab" textLength="78.5" lengthAdjust="spacingAndGlyphs">USDX,Weekly</text>
<text x="116.7" y="544" class="tab" textLength="85.9" lengthAdjust="spacingAndGlyphs">EURUSD-,Daily</text>
<text x="223.1" y="544" class="tab" textLength="88.5" lengthAdjust="spacingAndGlyphs">AUDUSD-,Daily</text>
<text x="333.4" y="544" class="tab" textLength="84.7" lengthAdjust="spacingAndGlyphs">USDCHF-,Daily</text>
<text x="549.4" y="544" class="tab" textLength="89.2" lengthAdjust="spacingAndGlyphs">USDCNH-,Daily</text>
<text x="660.1" y="544" class="tab" textLength="87.5" lengthAdjust="spacingAndGlyphs">XAUUSD-,Daily</text>
<text x="768.9" y="544" class="tab" textLength="69.2" lengthAdjust="spacingAndGlyphs">UKOil-,Daily</text>
<text x="860.4" y="544" class="tab" textLength="83.2" lengthAdjust="spacingAndGlyphs">USOil-,Weekly</text>
<text x="963.4" y="544" class="tab" textLength="55.6" lengthAdjust="spacingAndGlyphs">HK50-,H1</text>
<text x="1039.4" y="544" class="tab" textLength="71.7" lengthAdjust="spacingAndGlyphs">EURCHF-,H1</text>
<text x="441.0" y="544" class="tab" textLength="86.3" lengthAdjust="spacingAndGlyphs" style="fill:#000">USDCAD-,Daily</text>
<clipPath id="cl"><rect x="1130" y="530" width="47.3" height="19"/></clipPath>
<text x="1134.2" y="544" class="tab" clip-path="url(#cl)" textLength="49.2" lengthAdjust="spacingAndGlyphs">USOil-,H</text>
<polygon points="1182.8,538 1186,534.8 1186,541.2" fill="#9a9a9a"/>
<polygon points="1205.3,538 1202,534.6 1202,541.4" fill="#000"/>
</svg>
</body></html>
